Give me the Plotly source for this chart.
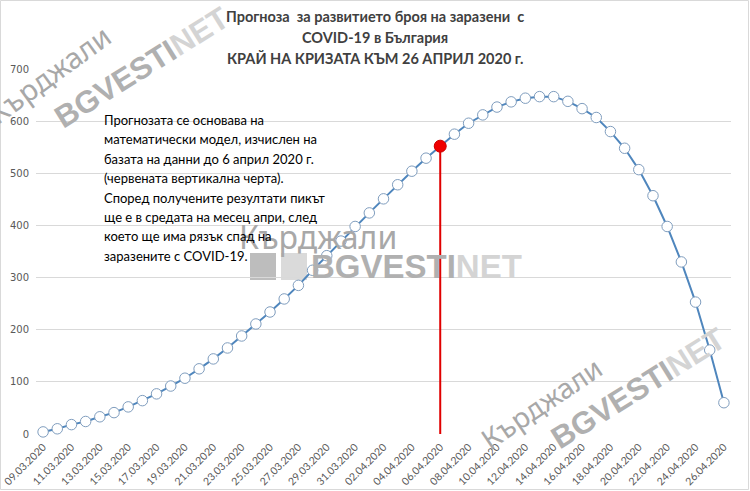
import plotly.graph_objects as go

# ---- data ----
dates = ["09.03.2020", "10.03.2020", "11.03.2020", "12.03.2020", "13.03.2020", "14.03.2020",
         "15.03.2020", "16.03.2020", "17.03.2020", "18.03.2020", "19.03.2020", "20.03.2020",
         "21.03.2020", "22.03.2020", "23.03.2020", "24.03.2020", "25.03.2020", "26.03.2020",
         "27.03.2020", "28.03.2020", "29.03.2020", "30.03.2020", "31.03.2020", "01.04.2020",
         "02.04.2020", "03.04.2020", "04.04.2020", "05.04.2020", "06.04.2020", "07.04.2020",
         "08.04.2020", "09.04.2020", "10.04.2020", "11.04.2020", "12.04.2020", "13.04.2020",
         "14.04.2020", "15.04.2020", "16.04.2020", "17.04.2020", "18.04.2020", "19.04.2020",
         "20.04.2020", "21.04.2020", "22.04.2020", "23.04.2020", "24.04.2020", "25.04.2020",
         "26.04.2020"]
infected = [4, 10, 18, 24, 33, 41, 52, 64, 77, 92,
            107, 125, 144, 165, 188, 211, 234, 259, 285, 314,
            342, 370, 398, 424, 451, 478, 504, 529, 552,
            575, 596, 612, 627, 637, 644, 647, 647, 638, 624,
            607, 580, 548, 507, 457, 398, 330, 253, 161, 60]
cutoff_date = "06.04.2020"
y_ticks = [0, 100, 200, 300, 400, 500, 600, 700]
tick_dates = dates[::2]

title_lines = ["Прогноза  за развитието броя на заразени  с",
               "COVID-19 в България",
               "КРАЙ НА КРИЗАТА КЪМ 26 АПРИЛ 2020 г."]
note_lines = ["Прогнозата се основава на",
              "математически модел, изчислен на",
              "базата на данни до 6 април 2020 г.",
              "(червената вертикална черта).",
              "Според получените резултати пикът",
              "ще е в средата на месец апри, след",
              "което ще има рязък спад на",
              "заразените с COVID-19."]

cut_idx = dates.index(cutoff_date)
cut_val = infected[cut_idx]

# ---- layout geometry (pixels) ----
W, H = 750, 491
L, R, T, B = 36, 19, 69, 57
PW, PH = W - L - R, H - T - B


def px(x):
    return (x - L) / PW


def py(y):
    return (H - B - y) / PH


fig = go.Figure()

fig.add_trace(go.Scatter(
    x=dates, y=infected, mode="lines+markers",
    line=dict(color="#4F86BD", width=2),
    marker=dict(symbol="circle", size=10.5, color="white",
                line=dict(color="#7F9DBE", width=1)),
    showlegend=False, hoverinfo="x+y", cliponaxis=False))

fig.add_trace(go.Scatter(
    x=[cutoff_date, cutoff_date], y=[0, cut_val], mode="lines",
    line=dict(color="#E00000", width=2), showlegend=False, hoverinfo="skip"))

fig.add_trace(go.Scatter(
    x=[cutoff_date], y=[cut_val], mode="markers",
    marker=dict(size=12, color="#F00000", line=dict(color="#D00000", width=1)),
    showlegend=False, hoverinfo="x+y"))

annotations = []
shapes = []

# watermarks
def wm(text, x, y, size, color, angle, family="Lato", weight=None):
    t = text if weight is None else f"<b>{text}</b>"
    annotations.append(dict(text=t, x=px(x), y=py(y), xref="paper", yref="paper",
                            showarrow=False, textangle=angle,
                            font=dict(family=family, size=size, color=color),
                            xanchor="center", yanchor="middle"))

# center watermark
wm("Кърджали", 318, 236, 32, "#A8A8A8", 0, family="Noto Sans")
wm("BGVESTI<span style='color:#D4D4D4'>NET</span>", 417, 266, 33, "#B0B0B0", 0,
   family="Liberation Sans", weight=True)
for (x0, x1, c) in [(250, 276, "#BDBDBD"), (281, 307, "#DADADA")]:
    shapes.append(dict(type="rect", xref="paper", yref="paper",
                       x0=px(x0), x1=px(x1), y0=py(280), y1=py(253),
                       fillcolor=c, line=dict(width=0), layer="below"))

# top-left watermark
wm("Кърджали", 48, 74, 29, "#A8A8A8", -36, family="Noto Sans")
wm("BGVESTI<span style='color:#D4D4D4'>NET</span>", 142, 68, 31, "#B0B0B0", -32,
   family="Liberation Sans", weight=True)

# bottom-right watermark
wm("Кърджали", 541, 403, 28, "#A8A8A8", -34, family="Noto Sans")
wm("BGVESTI<span style='color:#D4D4D4'>NET</span>", 638, 388, 31, "#B0B0B0", -32,
   family="Liberation Sans", weight=True)

# title (one annotation per line to control spacing)
for i, line in enumerate(title_lines):
    annotations.append(dict(text=f"<b>{line}</b>", x=px(375), y=py(17 + i * 20.5),
                            xref="paper", yref="paper", showarrow=False,
                            xanchor="center", yanchor="middle",
                            font=dict(family="Lato", size=14.5, color="#404040")))

# note
for i, line in enumerate(note_lines):
    annotations.append(dict(text=line, x=px(102), y=py(120 + i * 19.4),
                            xref="paper", yref="paper", showarrow=False,
                            xanchor="left", yanchor="middle", align="left",
                            font=dict(family="Lato", size=13, color="#000000")))

# chart border
shapes.append(dict(type="rect", xref="paper", yref="paper",
                   x0=px(0.5), x1=px(W - 1.5), y0=py(H - 1.5), y1=py(0.5),
                   line=dict(color="#D9D9D9", width=1), fillcolor="rgba(0,0,0,0)"))

fig.update_layout(
    width=W, height=H,
    margin=dict(l=L, r=R, t=T, b=B, autoexpand=False),
    paper_bgcolor="white", plot_bgcolor="white",
    annotations=annotations, shapes=shapes,
    xaxis=dict(type="category", range=[-0.5, len(dates) - 0.5], automargin=False,
               tickmode="array", tickvals=tick_dates, ticktext=tick_dates,
               tickangle=-45, showgrid=False, zeroline=False, showline=False,
               ticks="", ticklabelstandoff=4,
               tickfont=dict(family="Lato", size=10.5, color="#595959")),
    yaxis=dict(range=[0, 700], tickvals=y_ticks, showgrid=True, automargin=False,
               gridcolor="#D9D9D9", gridwidth=1, zeroline=False, showline=False,
               ticks="", ticklabelstandoff=6,
               tickfont=dict(family="DejaVu Sans", size=10, color="#595959")),
)

fig.write_html("out.html", config={"displayModeBar": False},
               post_script="document.body.style.margin='0';document.body.style.overflow='hidden';")
